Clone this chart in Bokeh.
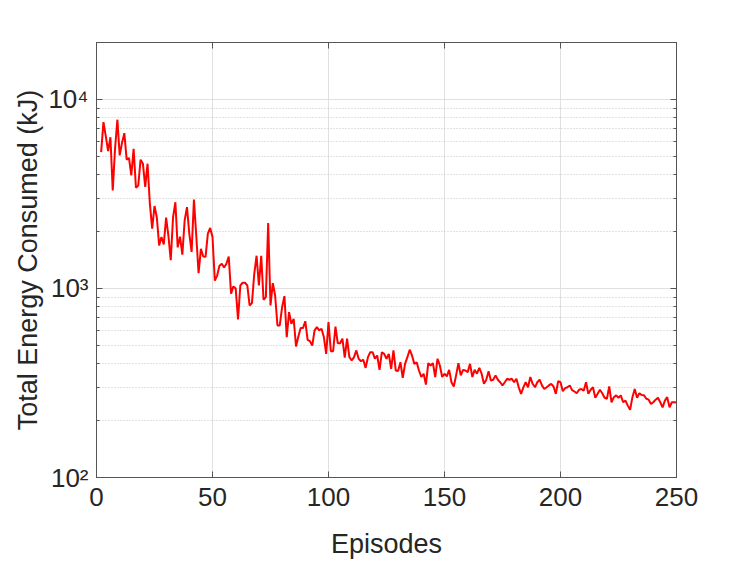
from bokeh.plotting import figure
from bokeh.models import LogAxis, LinearAxis, Range1d, FixedTicker, LogTicker
from bokeh.embed import file_html
from bokeh.resources import INLINE

episodes = list(range(2, 251))
energy = [
    5260, 7590, 6400, 5330, 6310, 3300, 5500, 7810, 5060, 5900,
    6630, 4800, 4900, 3960, 5480, 3410, 3500, 4800, 4570, 3450,
    4570, 2810, 2070, 2730, 2380, 1690, 1870, 1710, 2370, 1900,
    1410, 2380, 2860, 1650, 1880, 1510, 2290, 2690, 1950, 1560,
    2950, 1900, 1205, 1620, 1476, 1470, 1950, 2090, 1870, 1100,
    1170, 1320, 1350, 1290, 1350, 1476, 938, 1025, 1000, 686,
    1037, 1072, 1072, 1037, 813, 836, 1196, 1490, 1037, 1490,
    871, 899, 2217, 813, 1066, 918, 637, 637, 796, 911,
    553, 750, 650, 691, 493, 557, 617, 617, 671, 535,
    526, 499, 600, 624, 600, 612, 553, 451, 664, 466,
    466, 629, 513, 513, 542, 430, 542, 433, 416, 433,
    470, 425, 412, 420, 380, 433, 460, 460, 425, 442,
    371, 460, 451, 425, 451, 376, 470, 368, 366, 407,
    337, 399, 433, 474, 442, 399, 407, 368, 340, 354,
    310, 403, 391, 403, 340, 425, 391, 340, 354, 343,
    371, 319, 303, 347, 403, 347, 371, 368, 361, 399,
    340, 371, 354, 380, 354, 313, 329, 365, 326, 329,
    347, 329, 319, 307, 319, 333, 329, 333, 319, 333,
    300, 277, 300, 319, 300, 340, 313, 300, 319, 329,
    307, 294, 300, 307, 313, 303, 277, 323, 319, 286,
    297, 300, 307, 290, 285, 279, 291, 294, 288, 319,
    277, 291, 300, 264, 277, 291, 279, 264, 261, 303,
    250, 266, 272, 264, 272, 250, 255, 240, 228, 266,
    294, 264, 279, 273, 272, 261, 258, 245, 250, 258,
    264, 250, 235, 255, 266, 235, 250, 250, 249,
]

x_ticks = [0, 50, 100, 150, 200, 250]
y_ticks = [100, 1000, 10000]
y_tick_labels = ["10\u00b2", "10\u00b3", "10\u2074"]

TXT = "#262626"
FONT = "Liberation Sans"

p = figure(
    frame_width=580, frame_height=435,
    x_range=Range1d(0, 250), y_range=Range1d(100, 20000),
    y_axis_type="log",
    output_backend="svg", toolbar_location=None,
    min_border_left=96, min_border_right=40,
    min_border_top=42, min_border_bottom=82,
    background_fill_color="white", border_fill_color="white",
)
p.outline_line_color = "#555555"
p.outline_line_width = 1

p.line(episodes, energy, line_color="#ff0000", line_width=2)

# axes styling
for ax in [p.xaxis[0], p.yaxis[0]]:
    ax.axis_line_color = "#555555"
    ax.major_tick_line_color = "#555555"
    ax.minor_tick_line_color = "#555555"
    ax.major_tick_in = 6
    ax.major_tick_out = 0
    ax.minor_tick_in = 3
    ax.minor_tick_out = 0
    ax.major_label_text_font = FONT
    ax.major_label_text_color = TXT
    ax.major_label_text_font_size = "26px"
    ax.axis_label_text_font = FONT
    ax.axis_label_text_color = TXT
    ax.axis_label_text_font_size = "27px"
    ax.axis_label_text_font_style = "normal"

p.xaxis[0].ticker = FixedTicker(ticks=x_ticks)
p.xaxis[0].axis_label = "Episodes"
p.xaxis[0].major_label_standoff = 10
p.xaxis[0].axis_label_standoff = 20

p.yaxis[0].ticker = LogTicker(num_minor_ticks=10)
p.yaxis[0].major_label_overrides = {t: l for t, l in zip(y_ticks, y_tick_labels)}
p.yaxis[0].axis_label = "Total Energy Consumed (kJ)"
p.yaxis[0].major_label_standoff = 8
p.yaxis[0].axis_label_standoff = 2

# mirrored ticks on top and right (box on)
top = LinearAxis(ticker=FixedTicker(ticks=x_ticks),
                 major_label_overrides={t: "" for t in x_ticks})
right = LogAxis(ticker=LogTicker(num_minor_ticks=10),
                major_label_overrides={t: "" for t in y_ticks})
for ax in [top, right]:
    ax.axis_line_color = "#555555"
    ax.major_tick_line_color = "#555555"
    ax.minor_tick_line_color = "#555555"
    ax.major_tick_in = 6
    ax.major_tick_out = 0
    ax.minor_tick_in = 3
    ax.minor_tick_out = 0
    ax.major_label_text_font_size = "1px"
top.minor_tick_line_color = None
p.add_layout(top, "above")
p.add_layout(right, "right")

# grids
p.xgrid.ticker = FixedTicker(ticks=x_ticks)
p.xgrid.grid_line_color = "#e0e0e0"
p.ygrid.grid_line_color = "#e0e0e0"
p.ygrid.minor_grid_line_color = "#c4c4c4"
p.ygrid.minor_grid_line_dash = "1 2"

open("out.html", "w").write(file_html(p, INLINE))
